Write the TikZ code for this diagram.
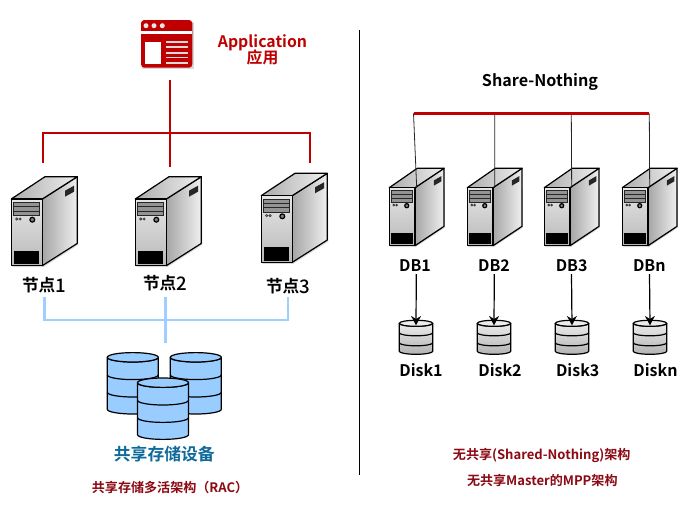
\documentclass[tikz,border=0pt]{standalone}
\usepackage{fontspec}
\setmainfont{Noto Sans CJK SC Medium}[BoldFont={Noto Sans CJK SC Bold}]
\usetikzlibrary{arrows.meta,positioning,shadows}
\definecolor{appred}{HTML}{C00000}
\definecolor{darkred}{HTML}{8B0A14}
\definecolor{storeblue}{HTML}{99CCFF}
\definecolor{linkblue}{HTML}{9FCFFF}
\definecolor{teal}{HTML}{0F6A9B}
\newcommand{\hostnum}[1]{\raisebox{-1pt}{\fontsize{14}{14}\selectfont\mdseries #1}}
\tikzset{
  redbus/.style={draw=appred, line width=1.3pt},
  bluebus/.style={draw=linkblue, line width=2.2pt},
  drop/.style={draw=black!85, line width=.6pt},
  flow/.style={-{Stealth[length=7pt, width=7.5pt]}, line width=.9pt},
  hostlab/.style={font=\fontsize{12.5}{14}\selectfont\bfseries, inner sep=0pt},
  dblab/.style={font=\fontsize{12}{14}\selectfont\bfseries, inner sep=0pt},
  capred/.style={font=\fontsize{9.8}{12}\selectfont\bfseries, text=darkred, inner sep=0pt},
  edge/.style={draw=black, line width=.9pt, line join=round},
  % server tower, origin at the lower left corner of its front panel
  pics/tower/.style={code={
    \coordinate (-top) at (33,-66.7);
    \path[fill=black, opacity=.15] (1,1.5) -- (32,1.5) -- (67,-20.8) -- (67,-65) -- (32,-65) -- cycle;
    \path[edge, left color=gray!70, right color=gray!12] (31,-66.7) -- (66,-89) -- (66,-22.3) -- (31,0) -- cycle;
    \path[edge, left color=gray!65, right color=gray!12] (0,-66.7) -- (33.7,-89) -- (66,-89) -- (31,-66.7) -- cycle;
    \path[edge, top color=gray!20, bottom color=gray!55] (0,0) rectangle (31,-66.7);
    \path[draw=black!85, fill=gray!85, line width=.5pt] (2.4,-63.4) rectangle (28,-50);
    \draw[black!85, line width=.9pt] (2.4,-59) -- (28,-59) (2.4,-54.6) -- (28,-54.6);
    \draw[black!80, line width=.5pt] (5.4,-46.7) circle[radius=1.1] (8.8,-46.7) circle[radius=1.1];
    \path[draw=black, fill=gray, line width=.9pt] (21,-46) circle[radius=2.4];
    \fill[black] (2.4,-15) rectangle (28,-1.7);
    \fill[black!85] (53.7,-75) -- (62.7,-80) -- (62.7,-74) -- (53.7,-69) -- cycle;
  }},
  % three level storage drum, origin at the centre of its lid
  pics/drum/.style={code={
    \path[edge, fill=storeblue] (-25.5,0) -- (-25.5,52) arc[start angle=180, end angle=0, x radius=25.5, y radius=4.7]
      -- (25.5,0) arc[start angle=0, end angle=180, x radius=25.5, y radius=4.7] -- cycle;
    \path[edge, fill=storeblue] (0,0) ellipse[x radius=25.5, y radius=4.7];
    \draw[edge] (-25.5,17.6) arc[start angle=180, end angle=0, x radius=25.5, y radius=4.7];
    \draw[edge] (-25.5,35) arc[start angle=180, end angle=0, x radius=25.5, y radius=4.7];
  }},
  % small grey disk
  pics/platter/.style={code={
    \coordinate (-top) at (0,2);
    \path[edge, top color=gray!15, bottom color=gray!60] (-16.7,0) -- (-16.7,28) arc[start angle=180, end angle=0, x radius=16.7, y radius=3]
      -- (16.7,0) arc[start angle=0, end angle=180, x radius=16.7, y radius=3] -- cycle;
    \path[edge, fill=gray!15] (0,0) ellipse[x radius=16.7, y radius=3];
    \draw[edge] (-16.7,9.5) arc[start angle=180, end angle=0, x radius=16.7, y radius=3];
    \draw[edge] (-16.7,19.5) arc[start angle=180, end angle=0, x radius=16.7, y radius=3];
  }},
}

\begin{document}
\begin{tikzpicture}[x=.75pt, y=-.75pt]
\useasboundingbox (0,0) rectangle (697,511);

% application window icon
\fill[black, opacity=.15] (142,21.5) rectangle (193.5,69);
\fill[appred, rounded corners=2.5pt] (141,20) rectangle (192.3,67.7);
\fill[white] (141,31) rectangle (192.3,34);
\fill[white!80!gray] (146,25.7) circle[radius=2.5] (154,25.7) circle[radius=2.5] (162.3,25.7) circle[radius=2.5];
\fill[white] (145.3,41.7) rectangle (160.7,64);
\draw[gray!30, line width=1.3pt] (166,41.7) -- (188.3,41.7) (166,47.3) -- (188.3,47.3) (166,52.7) -- (188.3,52.7)
  (166,57.5) -- (188.3,57.5) (166,62.7) -- (188.3,62.7);
\node[font=\fontsize{11.9}{14}\selectfont\bfseries, text=appred, align=center, inner sep=0pt] (app) at (262.5,50) {Application\\[-2pt]应用};

% shared storage side
\pic (node1) at (11.3,265.7) {tower};
\pic (node2) at (135.3,265.7) {tower};
\pic (node3) at (261.3,262.3) {tower};
\node[hostlab] (lab1) at (44,285) {节点\hostnum{1}};
\node[hostlab] (lab2) at (165,283) {节点\hostnum{2}};
\node[hostlab] (lab3) at (288,286) {节点\hostnum{3}};

\coordinate (apptap) at (170,80);
\coordinate (redhub) at (170,133);
\coordinate (redend2) at (170,167);
\coordinate (redend1) at (42.7,162.7);
\coordinate (redend3) at (310.3,162.7);
\draw[redbus] (apptap) -- (redend2);
\draw[redbus] (redend1) |- (redhub) -| (redend3);

\coordinate (bluetap1) at (44.3,296.7);
\coordinate (bluetap2) at (165.3,296.7);
\coordinate (bluetap3) at (288,296.7);
\coordinate (bluehub) at (165.3,320);
\coordinate (blueend) at (165.3,343.3);
\draw[bluebus] (bluetap2) -- (blueend);
\draw[bluebus] (bluetap1) |- (bluehub) -| (bluetap3);

\pic (store1) at (132.8,357.3) {drum};
\pic (store2) at (195.8,357.3) {drum};
\pic (store3) at (163,382.7) {drum};

\node[font=\fontsize{12.6}{14}\selectfont\bfseries, text=teal, inner sep=0pt] (storelab) at (164.3,454) {共享存储设备};
\node[capred] (raccap) at (170,487.3) {共享存储多活架构（RAC）};

% divider
\coordinate (divtop) at (359.5,30);
\coordinate (divbot) at (359.5,475);
\draw[black, line width=.6pt] (divtop) -- (divbot);

% share nothing side
\node[font=\fontsize{12.1}{14}\selectfont\bfseries, inner sep=0pt] (snlab) at (540,81.7) {Share-Nothing};
\pic[xscale=.83, yscale=.87] (db1) at (389.3,245.7) {tower};
\pic[xscale=.83, yscale=.87] (db2) at (467.3,245.7) {tower};
\pic[xscale=.83, yscale=.87] (db3) at (544.3,245.7) {tower};
\pic[xscale=.83, yscale=.87] (dbn) at (622.3,245.7) {tower};

\coordinate (bus1) at (413.5,113.3);
\coordinate (bus2) at (494.7,113.3);
\coordinate (bus3) at (571.3,113.3);
\coordinate (busn) at (649.3,113.3);
\draw[drop] (bus1) -- (db1-top);
\draw[drop] (bus2) -- (db2-top);
\draw[drop] (bus3) -- (db3-top);
\draw[drop] (busn) -- (dbn-top);
\draw[draw=appred, line width=2.2pt] (bus1) -- (busn);

\node[dblab] (dblab1) at (415,265.7) {DB1};
\node[dblab] (dblab2) at (494,265.7) {DB2};
\node[dblab] (dblab3) at (571.7,265.7) {DB3};
\node[dblab] (dblabn) at (649.3,265.7) {DBn};

\pic (disk1) at (416,323.3) {platter};
\pic (disk2) at (494,323.3) {platter};
\pic (disk3) at (572,323.3) {platter};
\pic (diskn) at (650,323.3) {platter};

\draw[flow] (416.3,274) -- (disk1-top);
\draw[flow] (494.3,274) -- (disk2-top);
\draw[flow] (571.5,274) -- (disk3-top);
\draw[flow] (649.5,274) -- (diskn-top);

\node[dblab] (disklab1) at (421,370) {Disk1};
\node[dblab] (disklab2) at (500,370) {Disk2};
\node[dblab] (disklab3) at (577.7,370) {Disk3};
\node[dblab] (disklabn) at (655.5,370) {Diskn};

\node[capred] (sncap) at (541.7,455.7) {无共享(Shared-Nothing)架构};
\node[capred] (mppcap) at (542.3,480.7) {无共享Master的MPP架构};

\end{tikzpicture}
\end{document}
